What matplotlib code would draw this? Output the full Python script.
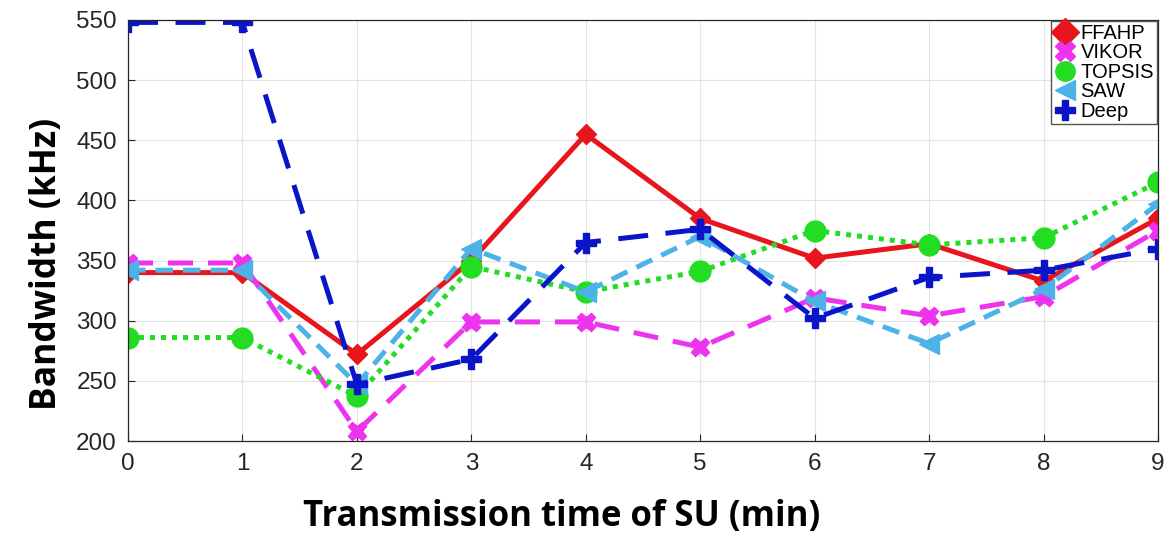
import matplotlib
matplotlib.use("Agg")
import matplotlib.pyplot as plt

x = list(range(10))
ffahp = [340, 340, 272, 350, 455, 385, 352, 364, 333, 385]
vikor = [348, 348, 208, 299, 299, 278, 319, 304, 320, 375]
topsis = [286, 286, 237, 345, 324, 341, 375, 363, 369, 415]
saw = [342, 342, 247, 360, 324, 370, 316, 281, 326, 397]
deep = [548, 548, 247, 268, 365, 376, 302, 336, 342, 360]
labels = ["FFAHP", "VIKOR", "TOPSIS", "SAW", "Deep"]

W, H = 1172, 542
fig = plt.figure(figsize=(W / 100, H / 100), dpi=100)
ax = fig.add_axes([128 / W, 1 - 441 / H, 1030 / W, 421 / H])

ax.plot(x, ffahp, color="#e8161c", lw=3.6, ls="-", marker="D", ms=10, label=labels[0])
ax.plot(x, vikor, color="#ee33ee", lw=3.6, ls=(0, (5, 3)), marker="X", ms=13, label=labels[1])
ax.plot(x, topsis, color="#22dd22", lw=3.6, ls=(0, (1, 1.2)), marker="o", ms=15, label=labels[2])
ax.plot(x, saw, color="#4db3e6", lw=3.6, ls=(0, (3.5, 2)), marker="<", ms=15, label=labels[3])
ax.plot(x, deep, color="#0a14c8", lw=3.6, ls=(0, (6, 3.5)), marker="P", ms=14, label=labels[4])

ax.set_xlim(0, 9)
ax.set_ylim(200, 550)
ax.set_xticks(range(10))
ax.set_yticks(range(200, 551, 50))
ax.grid(True, color="#e3e3e3", lw=0.8)
ax.set_axisbelow(True)
for s in ax.spines.values():
    s.set_color("#262626")
    s.set_linewidth(0.9)
ax.tick_params(direction="in", labelsize=17.5, colors="#262626", length=5)
ax.tick_params(axis="x", pad=9)
ax.tick_params(axis="y", pad=8)
for lab in ax.get_xticklabels() + ax.get_yticklabels():
    lab.set_fontfamily("Liberation Sans")

fig.text(562 / W, 1 - 517 / H, "Transmission time of SU (min)", fontsize=25,
         fontweight="bold", family="Open Sans", ha="center", va="center")
fig.text(47 / W, 1 - 264 / H, "Bandwidth (kHz)", fontsize=25.5, rotation=90,
         fontweight="bold", family="Open Sans", ha="center", va="center")

leg = ax.legend(loc="upper right", prop={"family": "Liberation Sans", "size": 14.5},
                frameon=True, fancybox=False, edgecolor="#555555", framealpha=1,
                borderpad=0.15, labelspacing=0.02, handlelength=1.05, handletextpad=0.25,
                borderaxespad=0.05)
for h in leg.legend_handles:
    h.set_linestyle("none")
    h.set_markersize(14)

fig.savefig("out.png", dpi=100)
